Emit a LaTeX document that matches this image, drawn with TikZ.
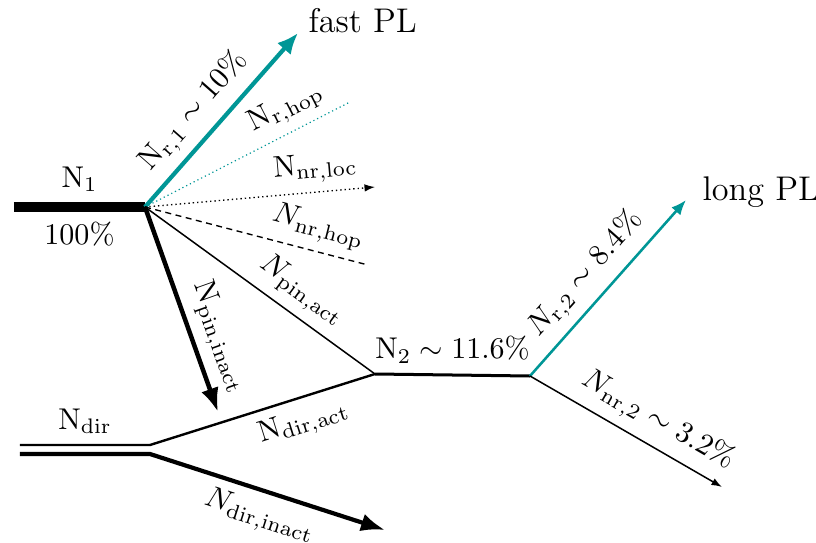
\documentclass[tikz,border=0pt]{standalone}
\usepackage{amsmath}
\usetikzlibrary{arrows.meta, positioning, calc}
\definecolor{plteal}{RGB}{0,150,150}
\tikzset{
  lbl/.style={sloped, text=black, inner sep=3pt},
  pltext/.style={font=\fontsize{11.4}{14}\selectfont},
  fastarrow/.style={plteal, line width=1.4pt, -{Latex[length=7pt,width=6pt]}},
  slowarrow/.style={plteal, line width=0.85pt, -{Latex[length=5pt,width=4pt]}},
  thinarrow/.style={black, line width=0.45pt, -{Latex[length=3.5pt,width=2.5pt]}},
  thickarrow/.style={black, line width=1.5pt, -{Latex[length=8pt,width=6pt]}}
}
\newcommand{\Nup}[1]{\mathrm{N}_{\mathrm{#1}}}
\newcommand{\Nit}[1]{N_{\mathrm{#1}}}
\begin{document}
\begin{tikzpicture}[x=0.0117cm, y=-0.0117cm, font=\fontsize{10.3}{12}\selectfont]
        % Fix the frame of the picture
        \useasboundingbox (0,0) rectangle (816,543);
        % Branch points
        \coordinate (start1) at (14,207);
        \coordinate (split1) at (145,207);
        \coordinate (split2) at (375,374);
        \coordinate (split3) at (530,376);
        \coordinate (dirtop) at (20,445);
        \coordinate (dirbot) at (20,454);
        \coordinate (dirsplittop) at (150,445);
        \coordinate (dirsplitbot) at (150,454);
        % Free ends of the arrows
        \coordinate (fastend) at (298,33);
        \coordinate (rhopend) at (350,102);
        \coordinate (nrlocend) at (375,187);
        \coordinate (nrhopend) at (368,265);
        \coordinate (inactend) at (218,412);
        \coordinate (longend) at (686,200);
        \coordinate (nr2end) at (722,487);
        \coordinate (dirinactend) at (385,530);
        % Initial population
        \draw[line width=3.4pt] (start1) -- node[above=0pt] (n1) {$\Nup{1}$} node[below=0pt] (n1pc) {$100\%$} (split1);
        % Fast radiative channel
        \draw[fastarrow] (split1) -- node[lbl, above, pos=0.45] (nr1) {$\Nup{r,1}\sim 10\%$} (fastend);
        \node[pltext, right=0pt of fastend, yshift=4pt] (fastpl) {fast PL};
        % Hopping and loss channels
        \draw[plteal, line width=0.4pt, densely dotted] (split1) -- node[lbl, above, pos=0.74] (nrhop) {$\Nup{r,hop}$} (rhopend);
        \draw[thinarrow, densely dotted] (split1) -- node[lbl, above, pos=0.75] (nnrloc) {$\Nup{nr,loc}$} (nrlocend);
        \draw[line width=0.45pt, dashed, dash pattern=on 2pt off 1.5pt] (split1) -- node[lbl, above, pos=0.75] (nnrhop) {$\Nit{nr,hop}$} (nrhopend);
        \draw[line width=0.5pt] (split1) -- node[lbl, above, pos=0.62] (npinact) {$\Nit{pin,act}$} (split2);
        \draw[thickarrow] (split1) -- node[lbl, above, pos=0.68] (npininact) {$\Nup{pin,inact}$} (inactend);
        % Second population
        \draw[line width=1pt] (split2) -- node[above=0pt] (n2) {$\Nup{2}\sim 11.6\%$} (split3);
        \draw[slowarrow] (split3) -- node[lbl, above, pos=0.48] (nr2) {$\Nit{r,2}\sim 8.4\%$} (longend);
        \node[pltext, right=2pt of longend, yshift=2.5pt] (longpl) {long PL};
        \draw[thinarrow, line width=0.5pt] (split3) -- node[lbl, above, pos=0.6] (nnr2) {$\Nit{nr,2}\sim 3.2\%$} (nr2end);
        % Direct excitation
        \draw[line width=0.8pt] (dirtop) -- node[above=0pt] (ndir) {$\Nup{dir}$} (dirsplittop)
              -- node[lbl, below, pos=0.65] (ndiract) {$\Nup{dir,act}$} (split2);
        \draw[thickarrow, line width=1.4pt] (dirbot) -- (dirsplitbot)
              -- node[lbl, below, pos=0.5] (ndirinact) {$\Nit{dir,inact}$} (dirinactend);
\end{tikzpicture}
\end{document}
